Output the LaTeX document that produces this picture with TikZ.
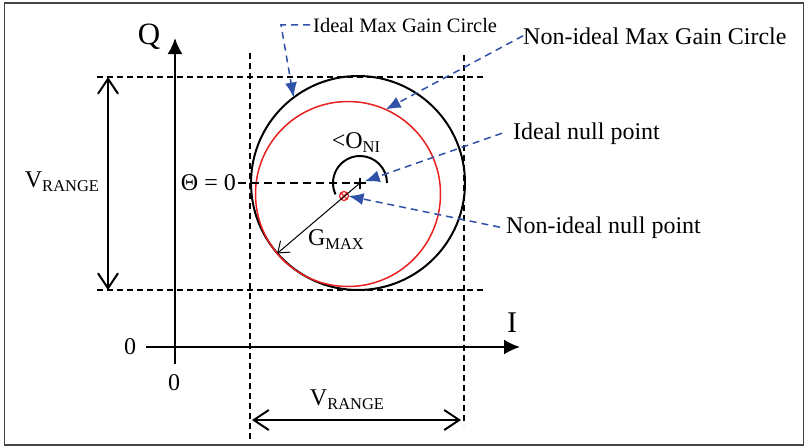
\documentclass[tikz,border=0pt]{standalone}
\usepackage{fontspec}
\setmainfont{Liberation Serif}
\usetikzlibrary{arrows.meta}
\definecolor{ptrblue}{RGB}{47,82,168}
\definecolor{nired}{RGB}{232,32,32}
\definecolor{framegray}{RGB}{70,70,70}
\newcommand{\lowsub}[1]{\raisebox{-4pt}{\fontsize{16.5}{18}\selectfont #1}}
\begin{document}
\begin{tikzpicture}[x=1pt,y=-1pt,
  lbl/.style={inner sep=0pt, font=\fontsize{24}{28}\selectfont},
  ptr/.style={ptrblue, line width=1.5pt, dash pattern=on 7pt off 5pt, -{Latex[length=15pt,width=12pt]}},
  guide/.style={black, line width=1.3pt, dash pattern=on 6pt off 4pt},
  axis/.style={line width=2pt, -{Latex[length=16pt,width=15pt]}},
  rng/.style={line width=2pt, {Straight Barb[length=15pt,width=20pt]}-{Straight Barb[length=15pt,width=20pt]}},
]
\useasboundingbox (0,0) rectangle (806,447);
\draw[line width=1.6pt, framegray] (4.5,3) rectangle (803.5,445);

% guide lines
\draw[guide] (97,77) -- (483,77);
\draw[guide] (97,290) -- (483,290);
\draw[guide] (250,53) -- (250,440);
\draw[guide] (464,55) -- (464,425);

% axes
\coordinate (qbot) at (175,364);
\coordinate (qtop) at (175,38);
\coordinate (ileft) at (146,347);
\coordinate (iright) at (520,347);
\draw[axis] (qbot) -- (qtop);
\draw[axis] (ileft) -- (iright);
\node[lbl, font=\fontsize{31}{34}\selectfont] (Q) at (149,37) {Q};
\node[lbl, font=\fontsize{30}{34}\selectfont] (I) at (512,323) {I};
\node[lbl] (zeroq) at (130,347) {0};
\node[lbl] (zeroi) at (174,383) {0};

% circles
\node[circle, draw, line width=2pt, minimum size=214pt, inner sep=0pt, outer sep=0pt] (ideal) at (358,183) {};
\node[circle, draw=nired, line width=1.5pt, minimum size=185pt, inner sep=0pt, outer sep=0pt] (nonideal) at (348,194) {};

% null points
\coordinate (inull) at (360,183);
\node[circle, draw=nired, line width=1.2pt, minimum size=9pt, inner sep=0pt, outer sep=0pt] (nnull) at (344,196) {};
\draw[nired, line width=1.2pt] (nnull.45) -- (nnull.225) (nnull.135) -- (nnull.-45);

% theta line
\node[lbl, anchor=east] (theta) at (236,183) {Θ = 0};
\draw[line width=2.5pt, dash pattern=on 8pt off 5pt, shorten <=2pt] (theta.east) -- (inull);
\draw[line width=1.8pt] (354,183) -- (366,183) (360,177.5) -- (360,188.5);

% angle arc
\draw[line width=2pt] (387,183) arc[start angle=0, end angle=-205, radius=27];
\node[lbl] (oni) at (356,143) {<O\lowsub{NI}};

% Gmax
\draw[line width=1pt, -{Straight Barb[length=10pt,width=15pt]}] (inull) -- (nonideal.220);
\node[lbl] (gmax) at (336,240) {G\lowsub{MAX}};

% Vrange arrows
\coordinate (vtop) at (108,77);
\coordinate (vbot) at (108,290);
\draw[rng] (vtop) -- (vbot);
\node[lbl] (vrl) at (62,182) {V\lowsub{RANGE}};
\coordinate (hleft) at (252,420);
\coordinate (hright) at (461,420);
\draw[rng] (hleft) -- (hright);
\node[lbl] (vrb) at (347,400) {V\lowsub{RANGE}};

% callouts
\node[inner ysep=0pt, inner xsep=3pt, anchor=base west, font=\fontsize{20.5}{24}\selectfont] (imgc) at (310,32) {Ideal Max Gain Circle};
\draw[ptr] (imgc.west) -- ++(-29,0) -- (ideal.127);
\node[lbl, anchor=base west] (nimgc) at (523,44) {Non-ideal Max Gain Circle};
\draw[ptr] (nimgc.west) -- (nonideal.66);
\node[inner ysep=0pt, inner xsep=11pt, anchor=base west, font=\fontsize{24}{28}\selectfont] (inp) at (502,139) {Ideal null point};
\draw[ptr, shorten >=5pt] (inp.west) -- (inull);
\node[inner ysep=0pt, inner xsep=6pt, anchor=base west, font=\fontsize{24}{28}\selectfont] (ninp) at (500,233) {Non-ideal null point};
\draw[ptr] (ninp.west) -- (nnull.east);
\end{tikzpicture}
\end{document}
